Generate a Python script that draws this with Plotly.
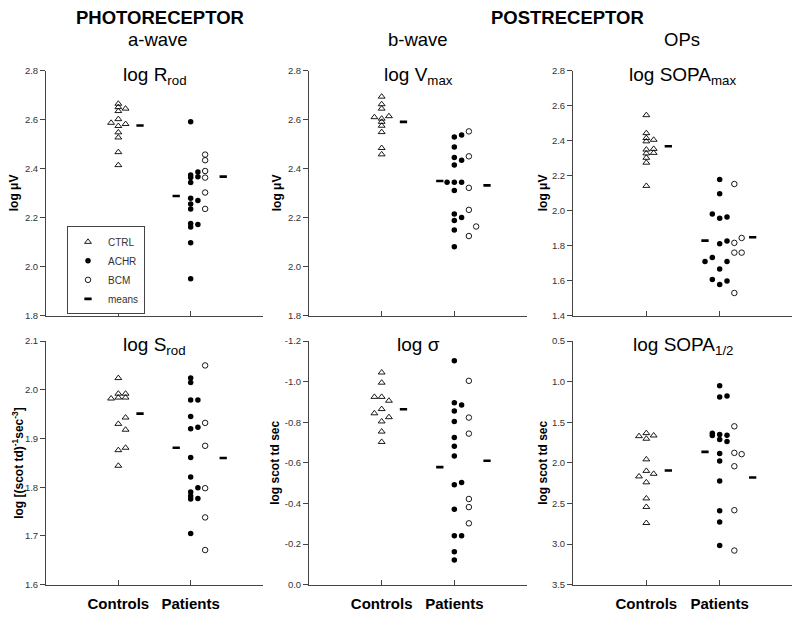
import plotly.graph_objects as go

# ---------------- data ----------------
categories = ["Controls", "Patients"]
panel_titles = ["log R<sub>rod</sub>", "log V<sub>max</sub>", "log SOPA<sub>max</sub>",
                "log S<sub>rod</sub>", "log σ", "log SOPA<sub>1/2</sub>"]
y_titles = ["log μV", "log μV", "log μV",
            "log [(scot td)<sup>-1</sup>sec<sup>-3</sup>]", "log scot td sec", "log scot td sec"]

# log Rrod
rrod_ctrl = [2.666, 2.652, 2.636, 2.646, 2.603, 2.588, 2.575, 2.583, 2.549, 2.528, 2.468, 2.415]
rrod_ctrl_col = [0, 0, 0, 1, 0, -1, 0, 1, 0, 0, 0, 0]
rrod_achr = [2.592, 2.375, 2.364, 2.344, 2.280, 2.256, 2.236, 2.176, 2.162, 2.098, 1.950,
             2.387, 2.367, 2.270, 2.172]
rrod_achr_col = [0] * 11 + [1] * 4
rrod_bcm = [2.458, 2.435, 2.391, 2.364, 2.303, 2.236]
rrod_bcm_col = [2] * 6
rrod_means = [2.577, 2.289, 2.368]

# log Vmax
vmax_ctrl = [2.695, 2.664, 2.646, 2.611, 2.615, 2.605, 2.592, 2.576, 2.550, 2.485, 2.459]
vmax_ctrl_col = [0, 0, 0, -1, 1, 0, 0, 0, 0, 0, 0]
vmax_achr = [2.530, 2.489, 2.446, 2.416, 2.345, 2.311, 2.215, 2.189, 2.150, 2.081,
             2.345, 2.538, 2.435, 2.345, 2.201]
vmax_achr_col = [0] * 10 + [-1] + [1] * 4
vmax_bcm = [2.553, 2.451, 2.322, 2.232, 2.125, 2.164]
vmax_bcm_col = [2, 2, 2, 2, 2, 3]
vmax_means = [2.592, 2.350, 2.332]

# log SOPAmax
sopamax_ctrl = [2.547, 2.444, 2.416, 2.406, 2.397, 2.350, 2.354, 2.331, 2.328, 2.303, 2.275, 2.142]
sopamax_ctrl_col = [0, 0, 0, 1, 0, 0, 1, 1, 0, 0, 0, 0]
sopamax_achr = [2.178, 2.097, 1.981, 1.957, 1.964, 1.811, 1.826, 1.709, 1.732, 1.710,
                1.666, 1.606, 1.578, 1.597]
sopamax_achr_col = [0, 0, -1, 0, 1, 0, 1, -2, -1, 1, 0, -1, 0, 1]
sopamax_bcm = [2.153, 1.816, 1.844, 1.760, 1.760, 1.529]
sopamax_bcm_col = [2, 2, 3, 2, 3, 2]
sopamax_means = [2.369, 1.829, 1.848]

# log Srod
srod_ctrl = [2.024, 1.992, 1.984, 1.982, 1.992, 1.984, 1.943, 1.930, 1.918, 1.876, 1.881, 1.844]
srod_ctrl_col = [0, 0, 0, -1, 1, 1, 1, 0, 1, 0, 1, 0]
srod_achr = [2.024, 2.015, 1.979, 1.945, 1.920, 1.861, 1.821, 1.790, 1.782, 1.776, 1.705,
             1.979, 1.923, 1.799, 1.777]
srod_achr_col = [0] * 11 + [1] * 4
srod_bcm = [2.050, 1.932, 1.885, 1.798, 1.738, 1.671]
srod_bcm_col = [2] * 6
srod_means = [1.951, 1.881, 1.860]

# log sigma
sigma_ctrl = [-1.045, -0.995, -0.925, -0.925, -0.906, -0.865, -0.844, -0.825, -0.804, -0.754, -0.703]
sigma_ctrl_col = [0, 0, -1, 0, 1, 0, -1, 1, 0, 0, 0]
sigma_achr = [-1.103, -0.896, -0.856, -0.804, -0.725, -0.682, -0.634, -0.492, -0.372, -0.241,
              -0.162, -0.121, -0.885, -0.503, -0.241]
sigma_achr_col = [0] * 12 + [1] * 3
sigma_bcm = [-1.004, -0.823, -0.744, -0.422, -0.382, -0.302]
sigma_bcm_col = [2] * 6
sigma_means = [-0.864, -0.579, -0.610]

# log SOPA1/2
sopahalf_ctrl = [1.671, 1.634, 1.663, 1.703, 1.957, 2.099, 2.167, 2.135, 2.240, 2.438, 2.543, 2.741]
sopahalf_ctrl_col = [-1, 0, 1, 0, 0, 0, -1, 1, 0, 0, 0, 0]
sopahalf_achr = [1.049, 1.190, 1.651, 1.711, 1.885, 1.978, 2.224, 2.591, 2.729, 3.019,
                 1.178, 1.659, 1.736, 1.634, 1.663]
sopahalf_achr_col = [0] * 10 + [1, 1, 1, -1, -1]
sopahalf_bcm = [1.550, 1.877, 1.893, 2.042, 2.583, 3.080]
sopahalf_bcm_col = [2, 2, 3, 2, 2, 2]
sopahalf_means = [2.095, 1.865, 2.180]

y_ticks = [
    [1.8, 2.0, 2.2, 2.4, 2.6, 2.8],
    [1.8, 2.0, 2.2, 2.4, 2.6, 2.8],
    [1.4, 1.6, 1.8, 2.0, 2.2, 2.4, 2.6, 2.8],
    [1.6, 1.7, 1.8, 1.9, 2.0, 2.1],
    [0.0, -0.2, -0.4, -0.6, -0.8, -1.0, -1.2],
    [3.5, 3.0, 2.5, 2.0, 1.5, 1.0, 0.5],
]

panels = [
    (rrod_ctrl, rrod_ctrl_col, rrod_achr, rrod_achr_col, rrod_bcm, rrod_bcm_col, rrod_means),
    (vmax_ctrl, vmax_ctrl_col, vmax_achr, vmax_achr_col, vmax_bcm, vmax_bcm_col, vmax_means),
    (sopamax_ctrl, sopamax_ctrl_col, sopamax_achr, sopamax_achr_col, sopamax_bcm, sopamax_bcm_col, sopamax_means),
    (srod_ctrl, srod_ctrl_col, srod_achr, srod_achr_col, srod_bcm, srod_bcm_col, srod_means),
    (sigma_ctrl, sigma_ctrl_col, sigma_achr, sigma_achr_col, sigma_bcm, sigma_bcm_col, sigma_means),
    (sopahalf_ctrl, sopahalf_ctrl_col, sopahalf_achr, sopahalf_achr_col, sopahalf_bcm, sopahalf_bcm_col, sopahalf_means),
]

# ---------------- layout helpers ----------------
W, H = 800, 617
PAGE_MARGIN = 8   # default body margin of the html page
COL_PX = [(46, 263), (309, 527), (573, 793)]
ROW_PX = [(66, 315), (341, 589)]
YTITLE_SHIFT = [-32, -32, -30, -28, -34, -30]
STEP = 0.1                        # horizontal spacing of overlapping points
MEAN_OFFSETS = [0.3, -0.2, 0.45]  # mean dash placement relative to category
AXIS_COLOR = "#444444"
FONT = "Liberation Sans, Arial, sans-serif"


def px_x(px):
    return (px - PAGE_MARGIN) / W


def px_y(py):
    return 1 - (py - PAGE_MARGIN) / H


fig = go.Figure()

for i, (cv, cc, av, ac, bv, bc, mv) in enumerate(panels):
    n = i + 1
    suffix = "" if n == 1 else str(n)
    xa, ya = "x" + suffix, "y" + suffix
    show = (i == 0)
    xc = 1  # Controls
    xp = 2  # Patients
    fig.add_trace(go.Scatter(
        x=[xc + STEP * c for c in cc], y=cv, mode="markers", name="CTRL",
        legendgroup="ctrl", showlegend=show, xaxis=xa, yaxis=ya,
        marker=dict(symbol="triangle-up-open", size=6, color="black", line=dict(width=0.9))))
    fig.add_trace(go.Scatter(
        x=[xp + STEP * c for c in ac], y=av, mode="markers", name="ACHR",
        legendgroup="achr", showlegend=show, xaxis=xa, yaxis=ya,
        marker=dict(symbol="circle", size=5.5, color="black")))
    fig.add_trace(go.Scatter(
        x=[xp + STEP * c for c in bc], y=bv, mode="markers", name="BCM",
        legendgroup="bcm", showlegend=show, xaxis=xa, yaxis=ya,
        marker=dict(symbol="circle-open", size=5.5, color="black", line=dict(width=0.9))))
    fig.add_trace(go.Scatter(
        x=[xc + MEAN_OFFSETS[0], xp + MEAN_OFFSETS[1], xp + MEAN_OFFSETS[2]], y=mv,
        mode="markers", name="means", legendgroup="means", showlegend=show,
        xaxis=xa, yaxis=ya,
        marker=dict(symbol="line-ew-open", size=5.2, color="black",
                    line=dict(width=2.6, color="black"))))

    r, c = divmod(i, 3)
    x0, x1 = COL_PX[c]
    y0, y1 = ROW_PX[r]
    ticks = y_ticks[i]
    rng = [ticks[0], ticks[-1]]
    fig.update_layout(**{
        "xaxis" + suffix: dict(domain=[px_x(x0), px_x(x1)], anchor=ya, range=[0, 3],
                   tickvals=[1, 2],
                   ticktext=[f"<b>{categories[0]}</b>", f"<b>{categories[1]}</b>"],
                   showticklabels=(r == 1), ticks="inside", ticklen=5,
                   ticklabelstandoff=5,
                   minor=dict(tickmode="array", tickvals=[3], ticks="inside",
                              ticklen=5, tickcolor=AXIS_COLOR, showgrid=False),
                   tickcolor=AXIS_COLOR, showline=True, linecolor=AXIS_COLOR,
                   linewidth=1, showgrid=False, zeroline=False, fixedrange=True,
                   tickfont=dict(size=15, color="black", family=FONT)),
        "yaxis" + suffix: dict(domain=[px_y(y1), px_y(y0)], anchor=xa, range=rng,
                   tickvals=ticks, ticktext=[f"{t:.1f}" for t in ticks],
                   ticks="outside", ticklen=5, tickcolor=AXIS_COLOR,
                   showline=True, linecolor=AXIS_COLOR, linewidth=1,
                   showgrid=False, zeroline=False, fixedrange=True,
                   tickfont=dict(size=9.5, color="#333333", family=FONT)),
    })
    # panel title
    fig.add_annotation(text=panel_titles[i], x=1.5, xref=xa, y=1, yref=ya + " domain",
                       yanchor="top", yshift=9, showarrow=False,
                       font=dict(size=19, color="black", family=FONT))
    # y-axis title
    fig.add_annotation(text=f"<b>{y_titles[i]}</b>", x=0, xref=xa + " domain",
                       xshift=YTITLE_SHIFT[i], xanchor="center", y=0.5, yref=ya + " domain",
                       yanchor="middle", textangle=-90, showarrow=False,
                       font=dict(size=12, color="black", family=FONT))

headers = [
    ("<b>PHOTORECEPTOR</b>", 160, 12),
    ("a-wave", 158, 34),
    ("<b>POSTRECEPTOR</b>", 567, 12),
    ("b-wave", 418, 34),
    ("OPs", 682, 34),
]
for txt, px, py in headers:
    fig.add_annotation(text=txt, x=px_x(px), y=px_y(py), xref="paper", yref="paper",
                       xanchor="center", yanchor="middle", showarrow=False,
                       font=dict(size=18.5, color="black", family=FONT))

fig.update_layout(
    width=W, height=H, autosize=False,
    margin=dict(l=0, r=0, t=0, b=0),
    paper_bgcolor="white", plot_bgcolor="white",
    font=dict(family=FONT, color="black"),
    showlegend=True,
    legend=dict(x=px_x(67), y=px_y(269), xanchor="left", yanchor="middle",
                bgcolor="white", bordercolor=AXIS_COLOR, borderwidth=1,
                font=dict(size=10, color="#333333", family=FONT),
                itemwidth=30, tracegroupgap=0),
)

fig.write_html("out.html")
